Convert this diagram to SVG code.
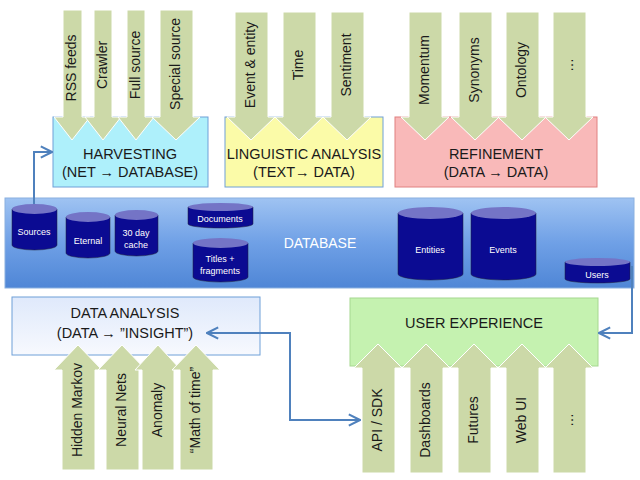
<svg xmlns="http://www.w3.org/2000/svg" width="640" height="480" viewBox="0 0 640 480">
<defs>
<linearGradient id="db" x1="0" y1="0" x2="0" y2="1"><stop offset="0" stop-color="#9fc3f2"/><stop offset="0.5" stop-color="#6fa0e6"/><stop offset="1" stop-color="#4f86d6"/></linearGradient>
<linearGradient id="da" x1="0" y1="0" x2="0" y2="1"><stop offset="0" stop-color="#dfe9fb"/><stop offset="1" stop-color="#f7f9fe"/></linearGradient>
<marker id="ah" viewBox="0 0 10 10" refX="9" refY="5" markerWidth="7" markerHeight="7" orient="auto-start-reverse"><path d="M1,1 L9,5 L1,9" fill="none" stroke="#4f81bd" stroke-width="1.5"/></marker>
</defs>
<style>
text{font-family:"Liberation Sans",Arial,sans-serif;fill:#1a1a1a}
.arr{fill:#ccd9a8;stroke:#fff;stroke-width:1}
.lbl{font-size:14px;text-anchor:middle;dominant-baseline:middle}
.box{stroke:#6fa0d8;stroke-width:1}
.title{font-size:14.5px;text-anchor:middle}
.cyl{fill:#0b0b92;stroke:#223;stroke-width:0.5}
.top{fill:#7474c6}
.ct{font-size:9px;fill:#fff;text-anchor:middle}
.con{fill:none;stroke:#4f81bd;stroke-width:2}
</style>
<g id="harvesting">
<rect class="box" x="53" y="117" width="155" height="70" fill="#aef0fb"/>
<text class="title" x="130" y="159">HARVESTING</text>
<text class="title" x="130" y="177">(NET → DATABASE)</text>
</g>
<g id="linguistic">
<rect class="box" x="225" y="117" width="158" height="70" fill="#fbfba8"/>
<text class="title" x="304" y="159">LINGUISTIC ANALYSIS</text>
<text class="title" x="304" y="177">(TEXT→ DATA)</text>
</g>
<g id="refinement">
<rect x="395" y="117" width="202" height="70" fill="#f9b9b9" stroke="#e08080"/>
<text class="title" x="496" y="159">REFINEMENT</text>
<text class="title" x="496" y="177">(DATA → DATA)</text>
</g>
<g id="down-arrows">
<path class="arr" d="M63,10 H82 V117 H90 L72,140 L54,117 H63Z"/>
<path class="arr" d="M94,10 H112 V117 H121 L103,140 L85,117 H94Z"/>
<path class="arr" d="M127,10 H145 V117 H154 L136,140 L118,117 H127Z"/>
<path class="arr" d="M160,10 H193 V117 H200 L176,140 L152,117 H160Z"/>
<text class="lbl" transform="translate(72,68) rotate(-90)">RSS feeds</text>
<text class="lbl" transform="translate(103,65) rotate(-90)">Crawler</text>
<text class="lbl" transform="translate(136,65) rotate(-90)">Full source</text>
<text class="lbl" transform="translate(176,64) rotate(-90)">Special source</text>
<path class="arr" d="M235,12 H268 V117 H275 L251,140 L227,117 H235Z"/>
<path class="arr" d="M283,12 H316 V117 H323 L299,140 L275,117 H283Z"/>
<path class="arr" d="M331,12 H364 V117 H371 L347,140 L323,117 H331Z"/>
<text class="lbl" transform="translate(251,65) rotate(-90)">Event &amp; entity</text>
<text class="lbl" transform="translate(299,65) rotate(-90)">Time</text>
<text class="lbl" transform="translate(347,65) rotate(-90)">Sentiment</text>
<path class="arr" d="M409,12 H442 V117 H449 L425,140 L401,117 H409Z"/>
<path class="arr" d="M459,12 H492 V117 H499 L475,140 L451,117 H459Z"/>
<path class="arr" d="M506,12 H539 V117 H546 L522,140 L498,117 H506Z"/>
<path class="arr" d="M553,12 H586 V117 H593 L569,140 L545,117 H553Z"/>
<text class="lbl" transform="translate(425,70) rotate(-90)">Momentum</text>
<text class="lbl" transform="translate(475,70) rotate(-90)">Synonyms</text>
<text class="lbl" transform="translate(522,70) rotate(-90)">Ontology</text>
<text class="lbl" transform="translate(569,65) rotate(-90)">…</text>
</g>
<g id="database">
<rect x="5" y="198" width="629" height="90" fill="url(#db)" stroke="#8ab0e0"/>
<text x="320" y="248" font-size="14" text-anchor="middle" style="fill:#fff">DATABASE</text>
</g>
<g id="cyl-sources"><path class="cyl" d="M12,209 V245 A22.5,5 0 0 0 57,245 V209Z"/><ellipse class="top" cx="34.5" cy="209" rx="22.5" ry="5"/><text class="ct" x="34" y="235">Sources</text></g>
<g id="cyl-eternal"><path class="cyl" d="M66,217 V253 A22,5 0 0 0 110,253 V217Z"/><ellipse class="top" cx="88" cy="217" rx="22" ry="5"/><text class="ct" x="88" y="244">Eternal</text></g>
<g id="cyl-cache"><path class="cyl" d="M115,215 V251 A21.5,5 0 0 0 158,251 V215Z"/><ellipse class="top" cx="136.5" cy="215" rx="21.5" ry="5"/><text class="ct" x="136" y="236">30 day</text><text class="ct" x="136" y="248">cache</text></g>
<g id="cyl-documents"><path class="cyl" d="M188,207 V224 A32.5,4 0 0 0 253,224 V207Z"/><ellipse class="top" cx="220.5" cy="207" rx="32.5" ry="4"/><text class="ct" x="220" y="222">Documents</text></g>
<g id="cyl-titles"><path class="cyl" d="M193,243 V277 A27.5,5 0 0 0 248,277 V243Z"/><ellipse class="top" cx="220.5" cy="243" rx="27.5" ry="5"/><text class="ct" x="220" y="262">Titles +</text><text class="ct" x="220" y="274">fragments</text></g>
<g id="cyl-entities"><path class="cyl" d="M398,213 V274 A32.5,6 0 0 0 463,274 V213Z"/><ellipse class="top" cx="430.5" cy="213" rx="32.5" ry="6"/><text class="ct" x="430" y="253">Entities</text></g>
<g id="cyl-events"><path class="cyl" d="M471,213 V274 A32.5,6 0 0 0 536,274 V213Z"/><ellipse class="top" cx="503.5" cy="213" rx="32.5" ry="6"/><text class="ct" x="503" y="253">Events</text></g>
<g id="cyl-users"><path class="cyl" d="M565,262 V279 A32.5,4 0 0 0 630,279 V262Z"/><ellipse class="top" cx="597.5" cy="262" rx="32.5" ry="4"/><text class="ct" x="597" y="278">Users</text></g>
<g id="data-analysis">
<rect class="box" x="12" y="297" width="248" height="58" fill="url(#da)"/>
<text class="title" x="125" y="318">DATA ANALYSIS</text>
<text class="title" x="125" y="338">(DATA → ”INSIGHT”)</text>
</g>
<g id="user-experience">
<rect x="350" y="298" width="248" height="68" fill="#c5f2b0" stroke="#a6d890"/>
<text class="title" x="474" y="328">USER EXPERIENCE</text>
</g>
<g id="up-arrows">
<path class="arr" d="M62,470 H95 V370 H102 L78,345 L54,370 H62Z"/>
<path class="arr" d="M106,470 H139 V370 H146 L122,345 L98,370 H106Z"/>
<path class="arr" d="M142,470 H174 V370 H181 L158,345 L135,370 H142Z"/>
<path class="arr" d="M180,470 H213 V370 H220 L196,345 L172,370 H180Z"/>
<text class="lbl" transform="translate(78,410) rotate(-90)">Hidden Markov</text>
<text class="lbl" transform="translate(122,410) rotate(-90)">Neural Nets</text>
<text class="lbl" transform="translate(158,410) rotate(-90)">Anomaly</text>
<text class="lbl" transform="translate(196,410) rotate(-90)">“Math of time”</text>
<path class="arr" d="M362,473 H395 V368 H402 L378,344 L354,368 H362Z"/>
<path class="arr" d="M410,473 H443 V368 H450 L426,344 L402,368 H410Z"/>
<path class="arr" d="M458,473 H491 V368 H498 L474,344 L450,368 H458Z"/>
<path class="arr" d="M506,473 H539 V368 H546 L522,344 L498,368 H506Z"/>
<path class="arr" d="M553,473 H586 V368 H593 L569,344 L545,368 H553Z"/>
<text class="lbl" transform="translate(378,420) rotate(-90)">API / SDK</text>
<text class="lbl" transform="translate(426,420) rotate(-90)">Dashboards</text>
<text class="lbl" transform="translate(474,420) rotate(-90)">Futures</text>
<text class="lbl" transform="translate(522,420) rotate(-90)">Web UI</text>
<text class="lbl" transform="translate(569,420) rotate(-90)">…</text>
</g>
<g id="connectors">
<path class="con" d="M34,204 V152 H52" marker-end="url(#ah)"/>
<path class="con" d="M632,266 V333 H599" marker-end="url(#ah)"/>
<path class="con" d="M207,333 H290 V420 H360" marker-start="url(#ah)" marker-end="url(#ah)"/>
</g>
</svg>
